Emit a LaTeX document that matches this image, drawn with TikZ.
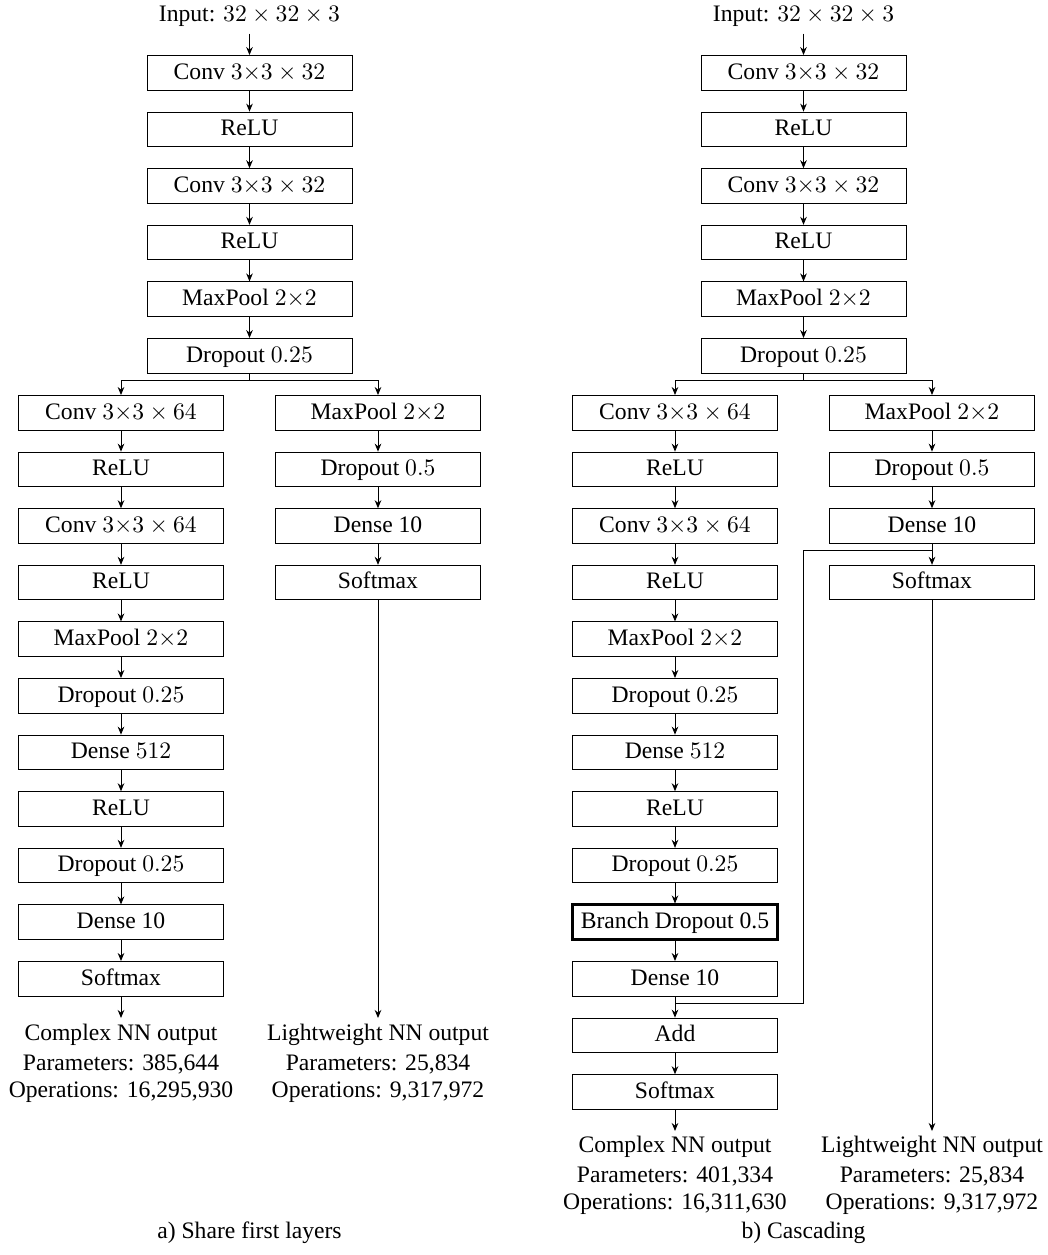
\documentclass[tikz,border=0pt]{standalone}
\usepackage[no-math]{fontspec}
\setmainfont{Liberation Serif}
\usetikzlibrary{arrows.meta}
\begin{document}
\begin{tikzpicture}[x=0.4233pt,y=-0.4233pt,
  layer/.style={draw,line width=0.4pt,minimum width=86.8pt,minimum height=14.6pt,inner sep=0pt,text height=7.5pt,text depth=2.2pt,font=\fontsize{10}{12}\selectfont},
  thickbox/.style={layer,line width=1.2pt},
  lbl/.style={inner sep=0pt,anchor=base,font=\fontsize{10}{12}\selectfont},
  arr/.style={-{Stealth[length=3.4pt,width=2.8pt]},line width=0.4pt},
  ln/.style={line width=0.4pt}]
\useasboundingbox (0,0) rectangle (1048,1255);

% ================= a) Share first layers =================
\node[lbl] (ain) at (249.5,21) {Input: $32 \times 32 \times 3$};
\node[layer] (a1) at (249.5,72.75) {Conv $3{\times}3 \times 32$};
\node[layer] (a2) at (249.5,129.35) {ReLU};
\node[layer] (a3) at (249.5,185.95) {Conv $3{\times}3 \times 32$};
\node[layer] (a4) at (249.5,242.55) {ReLU};
\node[layer] (a5) at (249.5,299.15) {MaxPool $2{\times}2$};
\node[layer] (a6) at (249.5,355.75) {Dropout $0.25$};
\coordinate (asplit) at (249.5,380);

\node[layer] (al1) at (121,412.75) {Conv $3{\times}3 \times 64$};
\node[layer] (al2) at (121,469.35) {ReLU};
\node[layer] (al3) at (121,525.95) {Conv $3{\times}3 \times 64$};
\node[layer] (al4) at (121,582.55) {ReLU};
\node[layer] (al5) at (121,639.15) {MaxPool $2{\times}2$};
\node[layer] (al6) at (121,695.75) {Dropout $0.25$};
\node[layer] (al7) at (121,752.35) {Dense $512$};
\node[layer] (al8) at (121,808.95) {ReLU};
\node[layer] (al9) at (121,865.55) {Dropout $0.25$};
\node[layer] (al10) at (121,922.15) {Dense 10};
\node[layer] (al11) at (121,978.75) {Softmax};
\coordinate (alout) at (121,1018);

\node[layer] (ar1) at (378,412.75) {MaxPool $2{\times}2$};
\node[layer] (ar2) at (378,469.35) {Dropout $0.5$};
\node[layer] (ar3) at (378,525.95) {Dense 10};
\node[layer] (ar4) at (378,582.55) {Softmax};
\coordinate (arout) at (378,1018);

\draw[arr,shorten <=3pt] (ain.south) -- (a1.north);
\draw[arr] (a1) -- (a2);
\draw[arr] (a2) -- (a3);
\draw[arr] (a3) -- (a4);
\draw[arr] (a4) -- (a5);
\draw[arr] (a5) -- (a6);
\draw[ln] (a6.south) -- (asplit);
\draw[arr] (asplit) -| (al1.north);
\draw[arr] (asplit) -| (ar1.north);
\foreach \i [evaluate=\i as \j using int(\i+1)] in {1,...,10} {\draw[arr] (al\i) -- (al\j);}
\foreach \i [evaluate=\i as \j using int(\i+1)] in {1,2,3} {\draw[arr] (ar\i) -- (ar\j);}
\draw[arr] (al11.south) -- (alout);
\draw[arr] (ar4.south) -- (arout);

\node[lbl] (alt1) at (121,1040) {Complex NN output};
\node[lbl] (alt2) at (121,1070) {Parameters: 385,644};
\node[lbl] (alt3) at (121,1097) {Operations: 16,295,930};
\node[lbl] (art1) at (378,1040) {Lightweight NN output};
\node[lbl] (art2) at (378,1070) {Parameters: 25,834};
\node[lbl] (art3) at (378,1097) {Operations: 9,317,972};
\node[lbl] (acap) at (249.5,1238) {a) Share first layers};

% ================= b) Cascading =================
\node[lbl] (bin) at (803.5,21) {Input: $32 \times 32 \times 3$};
\node[layer] (b1) at (803.5,72.75) {Conv $3{\times}3 \times 32$};
\node[layer] (b2) at (803.5,129.35) {ReLU};
\node[layer] (b3) at (803.5,185.95) {Conv $3{\times}3 \times 32$};
\node[layer] (b4) at (803.5,242.55) {ReLU};
\node[layer] (b5) at (803.5,299.15) {MaxPool $2{\times}2$};
\node[layer] (b6) at (803.5,355.75) {Dropout $0.25$};
\coordinate (bsplit) at (803.5,380);

\node[layer] (bl1) at (675,412.75) {Conv $3{\times}3 \times 64$};
\node[layer] (bl2) at (675,469.35) {ReLU};
\node[layer] (bl3) at (675,525.95) {Conv $3{\times}3 \times 64$};
\node[layer] (bl4) at (675,582.55) {ReLU};
\node[layer] (bl5) at (675,639.15) {MaxPool $2{\times}2$};
\node[layer] (bl6) at (675,695.75) {Dropout $0.25$};
\node[layer] (bl7) at (675,752.35) {Dense $512$};
\node[layer] (bl8) at (675,808.95) {ReLU};
\node[layer] (bl9) at (675,865.55) {Dropout $0.25$};
\node[thickbox] (bl10) at (675,922.15) {Branch Dropout 0.5};
\node[layer] (bl11) at (675,978.75) {Dense 10};
\node[layer] (bl12) at (675,1035.35) {Add};
\node[layer] (bl13) at (675,1091.95) {Softmax};
\coordinate (blout) at (675,1131);

\node[layer] (br1) at (932,412.75) {MaxPool $2{\times}2$};
\node[layer] (br2) at (932,469.35) {Dropout $0.5$};
\node[layer] (br3) at (932,525.95) {Dense 10};
\node[layer] (br4) at (932,582.55) {Softmax};
\coordinate (brout) at (932,1131);

\coordinate (jr) at (932,550);
\coordinate (m1) at (803,550);
\coordinate (m2) at (803,1003);
\coordinate (jl) at (675,1003);

\draw[arr,shorten <=3pt] (bin.south) -- (b1.north);
\draw[arr] (b1) -- (b2);
\draw[arr] (b2) -- (b3);
\draw[arr] (b3) -- (b4);
\draw[arr] (b4) -- (b5);
\draw[arr] (b5) -- (b6);
\draw[ln] (b6.south) -- (bsplit);
\draw[arr] (bsplit) -| (bl1.north);
\draw[arr] (bsplit) -| (br1.north);
\foreach \i [evaluate=\i as \j using int(\i+1)] in {1,...,12} {\draw[arr] (bl\i) -- (bl\j);}
\foreach \i [evaluate=\i as \j using int(\i+1)] in {1,2,3} {\draw[arr] (br\i) -- (br\j);}
\draw[ln] (jr) -- (m1) -- (m2) -- (jl);
\draw[arr] (bl13.south) -- (blout);
\draw[arr] (br4.south) -- (brout);

\node[lbl] (blt1) at (675,1152) {Complex NN output};
\node[lbl] (blt2) at (675,1182) {Parameters: 401,334};
\node[lbl] (blt3) at (675,1209) {Operations: 16,311,630};
\node[lbl] (brt1) at (932,1152) {Lightweight NN output};
\node[lbl] (brt2) at (932,1182) {Parameters: 25,834};
\node[lbl] (brt3) at (932,1209) {Operations: 9,317,972};
\node[lbl] (bcap) at (803.5,1238) {b) Cascading};
\end{tikzpicture}
\end{document}
